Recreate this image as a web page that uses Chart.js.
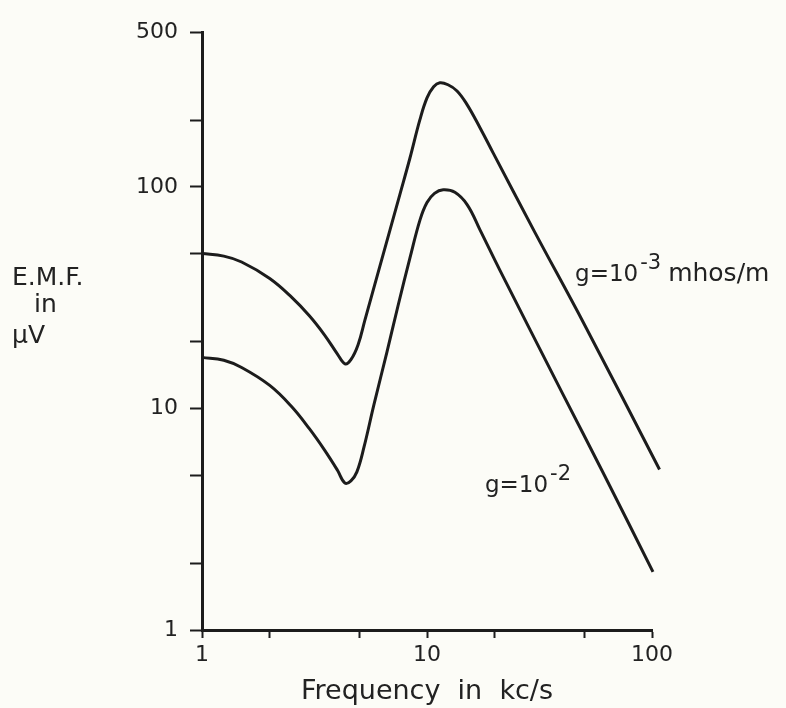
<!DOCTYPE html>
<html lang="en">
<head>
<meta charset="utf-8">
<title>E.M.F. against frequency</title>
<script src="https://cdn.jsdelivr.net/npm/chart.js@4.4.1/dist/chart.umd.min.js"></script>
<style>
  html, body { margin: 0; padding: 0; background: #fcfcf7; }
  #wrap { width: 786px; height: 708px; }
</style>
</head>
<body>
<div id="wrap"><canvas id="emfChart" width="786" height="708"></canvas></div>
<script>
// curve g = 10^-3 mhos/m
const freqLowG = [1, 1.25, 1.5, 2, 2.5, 3, 3.5, 4, 4.32, 4.59, 4.94, 5.3, 6.18, 7.59, 8.4, 9.3, 10.0, 10.7, 11.4, 12.4, 13.6, 15.0, 17.2, 19.7, 30, 50, 108];
const emfLowG = [50, 48.7, 45.8, 38.6, 31.8, 26.2, 21.5, 17.6, 15.9, 16.6, 19.4, 25.1, 44, 93, 135, 201, 252, 283, 295, 289, 271, 237, 185, 142, 63, 24, 5.3];

// curve g = 10^-2
const freqHighG = [1, 1.25, 1.5, 2, 2.5, 3, 3.5, 4, 4.32, 4.59, 4.88, 5.25, 5.81, 6.64, 7.43, 8.4, 9.31, 10.0, 10.8, 11.8, 13.3, 15.1, 17.2, 21.1, 40, 60.8, 101];
const emfHighG = [17, 16.5, 15.3, 12.7, 10.2, 8.1, 6.5, 5.26, 4.6, 4.71, 5.17, 6.7, 10.4, 18.0, 29.0, 47.8, 71, 85, 93.5, 97, 94.5, 83, 64, 42, 11.7, 5.1, 1.83];

// axis ticks
const xTicks = [1, 2, 5, 10, 20, 50, 100];
const xLabels = [1, 10, 100];
const yTicks = [1, 2, 5, 10, 20, 50, 100, 200, 500];
const yLabels = [1, 10, 100, 500];

const ink = "#1c1c1c";
const textInk = "#222";
const family = "'DejaVu Sans', sans-serif";

function points(xs, ys) {
  return xs.map((x, i) => ({ x: x, y: ys[i] }));
}

// text that sits inside the plot (axis caption on the left, curve names)
const freeText = {
  id: "freeText",
  afterDraw(chart) {
    const ctx = chart.ctx;
    const sx = chart.scales.x;
    const sy = chart.scales.y;
    ctx.save();
    ctx.fillStyle = textInk;
    ctx.textBaseline = "middle";
    ctx.textAlign = "left";
    ctx.font = "25px " + family;
    ctx.fillText("E.M.F.", 12, 278);
    ctx.fillText("in", 34, 305);
    ctx.fillText("\u03bcV", 12, 336);

    // curve labels with superscript exponents
    function label(xv, yv, base, exp, tail) {
      let px = sx.getPixelForValue(xv);
      const py = sy.getPixelForValue(yv);
      ctx.textBaseline = "alphabetic";
      ctx.font = "23px " + family;
      ctx.fillText(base, px, py);
      px += ctx.measureText(base).width + 2;
      ctx.font = "21px " + family;
      ctx.fillText(exp, px, py - 12);
      px += ctx.measureText(exp).width;
      if (tail) {
        ctx.font = "25px " + family;
        ctx.fillText(tail, px + 7, py);
      }
    }
    label(45.5, 37.7, "g=10", "-3", "mhos/m");
    label(18.1, 4.2, "g=10", "-2", "");
    ctx.restore();
  }
};

const lineStyle = {
  borderColor: ink,
  borderWidth: 3,
  pointRadius: 0,
  fill: false,
  tension: 0.4,
  clip: false
};

new Chart(document.getElementById("emfChart"), {
  type: "line",
  data: {
    datasets: [
      Object.assign({ label: "g = 10^-3 mhos/m", data: points(freqLowG, emfLowG) }, lineStyle),
      Object.assign({ label: "g = 10^-2 mhos/m", data: points(freqHighG, emfHighG) }, lineStyle)
    ]
  },
  options: {
    responsive: false,
    animation: false,
    layout: { padding: { left: 0, right: 134, top: 32, bottom: 0 } },
    plugins: {
      legend: { display: false },
      tooltip: { enabled: false }
    },
    scales: {
      x: {
        type: "logarithmic",
        min: 1,
        max: 100,
        afterBuildTicks: (axis) => { axis.ticks = xTicks.map((v) => ({ value: v })); },
        afterFit: (axis) => { axis.height = 78; },
        ticks: {
          autoSkip: false,
          maxRotation: 0,
          padding: 4,
          color: textInk,
          font: { family: family, size: 22 },
          callback: (v) => (xLabels.includes(v) ? String(v) : "")
        },
        grid: { display: true, drawOnChartArea: false, drawTicks: true, tickLength: 8, tickColor: ink, tickWidth: 2 },
        border: { display: true, color: ink, width: 3 },
        title: {
          display: true,
          text: "Frequency  in  kc/s",
          color: textInk,
          font: { family: family, size: 27 },
          padding: { top: 0, bottom: 0 }
        }
      },
      y: {
        type: "logarithmic",
        min: 1,
        max: 500,
        afterBuildTicks: (axis) => { axis.ticks = yTicks.map((v) => ({ value: v })); },
        afterFit: (axis) => { axis.width = 202; },
        ticks: {
          autoSkip: false,
          padding: 12,
          color: textInk,
          font: { family: family, size: 22 },
          callback: (v) => (yLabels.includes(v) ? String(v) : "")
        },
        grid: { display: true, drawOnChartArea: false, drawTicks: true, tickLength: 12, tickColor: ink, tickWidth: 2 },
        border: { display: true, color: ink, width: 3 }
      }
    }
  },
  plugins: [freeText]
});
</script>
</body>
</html>
